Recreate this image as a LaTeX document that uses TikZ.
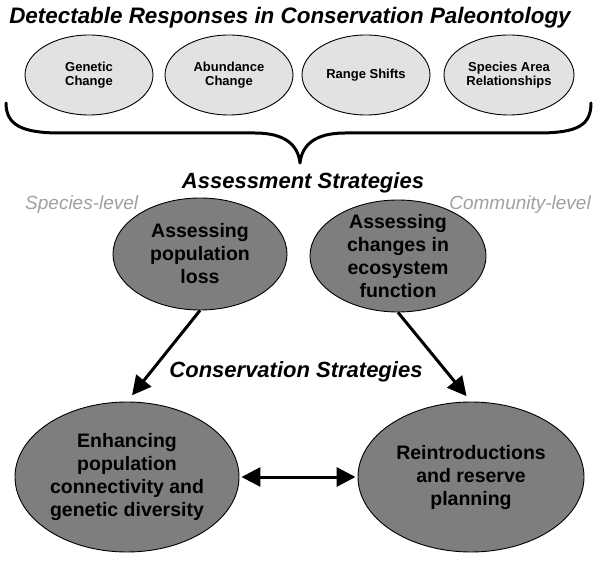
\documentclass[tikz,border=0pt]{standalone}
\usepackage{fontspec}
\setmainfont{Liberation Sans}
\usetikzlibrary{shapes.geometric,arrows.meta}
\definecolor{lightfill}{RGB}{226,226,226}
\definecolor{darkfill}{RGB}{126,126,126}
\definecolor{levelgrey}{RGB}{160,160,160}
\begin{document}
\begin{tikzpicture}[x=1pt,y=-1pt,
  small/.style={ellipse,draw=black,line width=0.9pt,fill=lightfill,minimum width=128pt,minimum height=80pt,inner sep=0pt},
  smalltext/.style={align=center,inner sep=0pt,font=\bfseries\fontsize{13}{14.5}\selectfont},
  big/.style={ellipse,draw=black,line width=0.9pt,fill=darkfill,inner sep=0pt},
  bigtext/.style={align=center,inner sep=0pt,font=\bfseries\fontsize{19.5}{23}\selectfont},
  heading/.style={font=\bfseries\itshape\fontsize{22}{24}\selectfont,inner sep=0pt},
  level/.style={font=\itshape\fontsize{19}{20}\selectfont,text=levelgrey,inner sep=0pt},
  arr/.style={line width=3pt,-{Triangle[length=19pt,width=19pt]}},
  dblarr/.style={line width=3pt,{Triangle[length=19pt,width=19pt]}-{Triangle[length=19pt,width=19pt]}},
  bracestyle/.style={line width=3pt,line cap=round,line join=round}
  ]
\useasboundingbox (0,0) rectangle (600,561);
\fill[white] (0,0) rectangle (600,561);

\node[heading,font=\bfseries\itshape\fontsize{22.4}{24}\selectfont] (title) at (290,18) {Detectable Responses in Conservation Paleontology};

\node[small] (gen) at (89,75) {};
\node[smalltext] (gent) at (gen) {Genetic\\Change};
\node[small] (abu) at (229,75) {};
\node[smalltext] (abut) at (abu) {Abundance\\Change};
\node[small] (rng) at (366,75) {};
\node[smalltext] (rngt) at (rng) {Range Shifts};
\node[small,minimum width=130pt] (spa) at (509,75) {};
\node[smalltext] (spat) at (spa) {Species Area\\Relationships};

\coordinate (bl) at (6,103);
\coordinate (br) at (591,103);
\coordinate (btip) at (300,163);
\draw[bracestyle] (bl) .. controls (6,125) and (22,133) .. (60,133) -- (255,133)
  .. controls (285,133) and (298,145) .. (btip)
  .. controls (302,145) and (315,133) .. (345,133) -- (538,133)
  .. controls (578,133) and (591,125) .. (br);

\node[heading] (assess) at (303,183) {Assessment Strategies};
\node[level,anchor=west] (sp) at (25,205) {Species-level};
\node[level,anchor=east] (com) at (591,205) {Community-level};

\node[big,minimum width=174pt,minimum height=112pt] (a) at (200,254) {};
\node[bigtext] (at) at (a) {Assessing\\population\\loss};
\node[big,minimum width=176pt,minimum height=112pt] (b) at (398,256) {};
\node[bigtext] (bt) at (b) {Assessing\\changes in\\ecosystem\\function};

\node[heading] (conserv) at (296,372) {Conservation Strategies};

\node[big,minimum width=224pt,minimum height=150pt] (c) at (127,477) {};
\node[bigtext] (ct) at (c) {Enhancing\\population\\connectivity and\\genetic diversity};
\node[big,minimum width=226pt,minimum height=150pt] (d) at (471,477) {};
\node[bigtext] (dt) at (d) {Reintroductions\\and reserve\\planning};

\draw[arr,shorten >=8pt] (a.south) -- (c.north);
\draw[arr,shorten >=7pt] (b.south) -- (d.north);
\draw[dblarr,shorten <=2pt,shorten >=2pt] (c.east) -- (d.west);
\end{tikzpicture}
\end{document}
